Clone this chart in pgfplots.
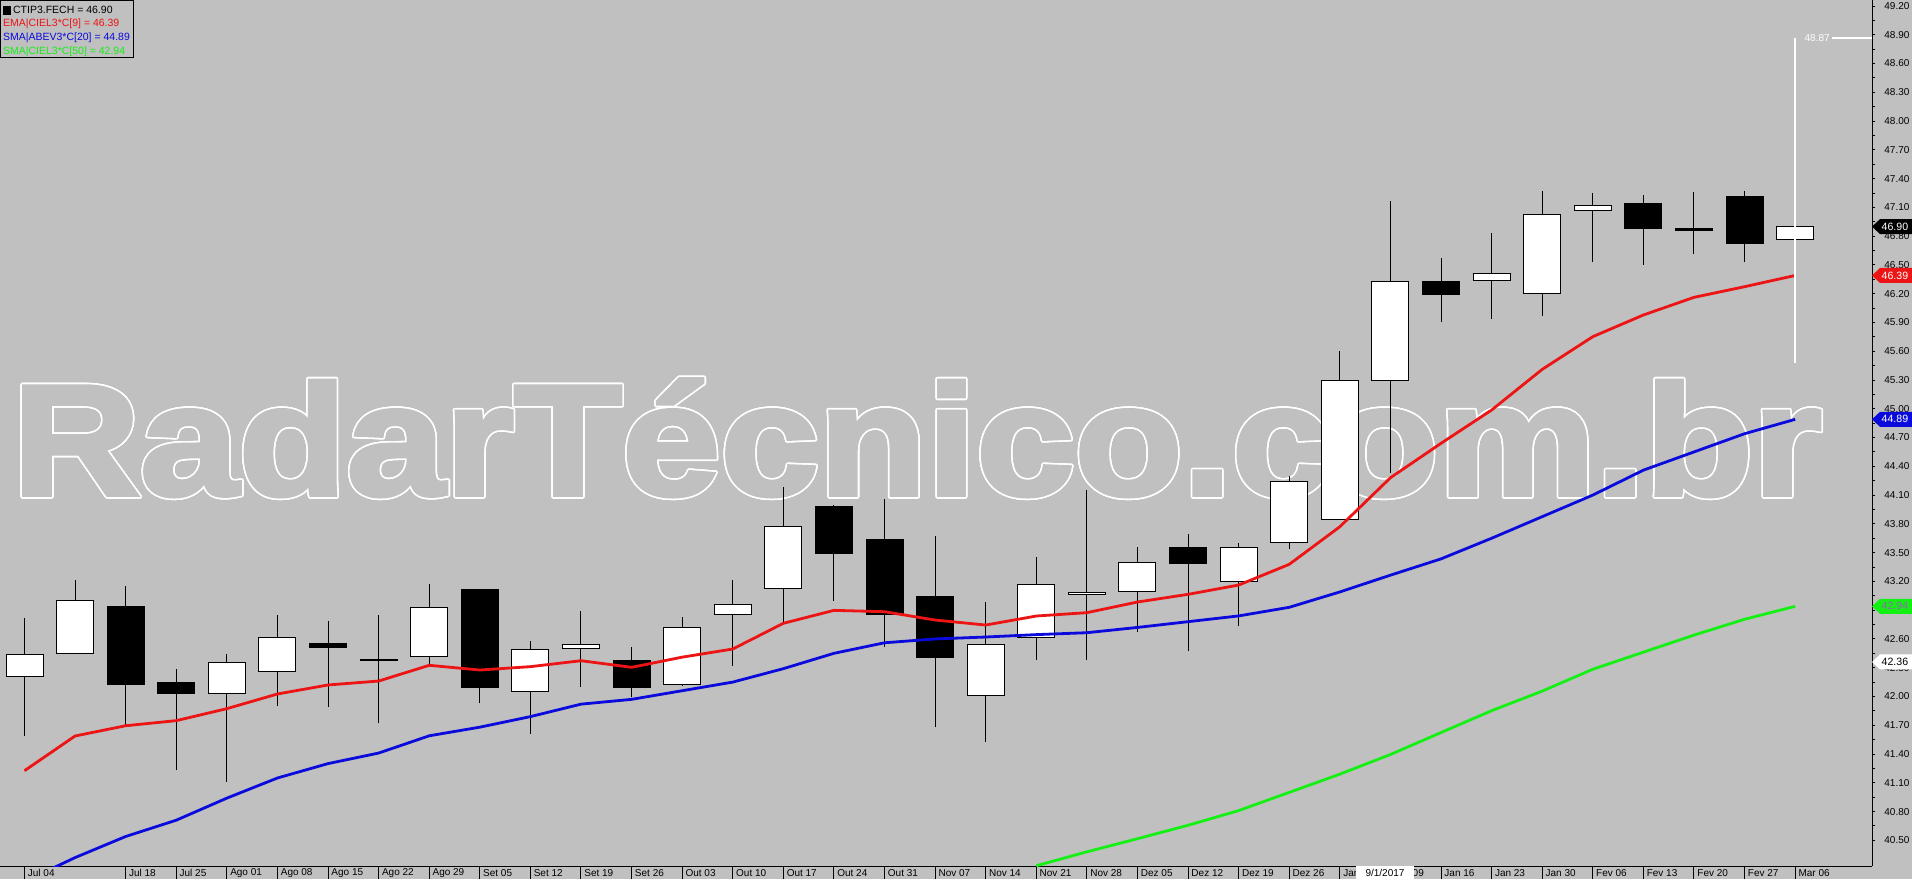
\documentclass[border=0pt]{standalone}
\usepackage{fontspec}
\setmainfont{Liberation Sans}
\newfontfamily\wmfam{Liberation Sans Bold}[FakeBold=2.5]
\usepackage{pgfplots}
\pgfplotsset{compat=1.18}
\usepackage{pgfplotstable}
\definecolor{bg}{RGB}{192,192,192}
\definecolor{emared}{RGB}{236,20,20}
\definecolor{smablue}{RGB}{10,10,220}
\definecolor{smagreen}{RGB}{20,240,20}
\definecolor{tagtext}{RGB}{150,100,180}
\newcommand\wmfont{\wmfam\fontsize{79pt}{79pt}\selectfont}
\newcommand\smallf{\fontsize{5pt}{6pt}\selectfont}
\newcommand\legf{\fontsize{5.25pt}{6pt}\selectfont}

\pgfplotstableread{
x o h l c
0 42.21 42.82 41.59 42.44
1 42.45 43.21 42.45 43.00
2 42.94 43.15 41.70 42.12
3 42.15 42.29 41.23 42.03
4 42.03 42.44 41.11 42.35
5 42.26 42.85 41.90 42.62
6 42.55 42.79 41.89 42.51
7 42.39 42.85 41.72 42.38
8 42.42 43.17 42.33 42.93
9 43.12 43.12 41.93 42.09
10 42.05 42.58 41.61 42.49
11 42.50 42.89 42.10 42.54
12 42.37 42.52 41.99 42.09
13 42.12 42.83 42.11 42.72
14 42.85 43.21 42.32 42.96
15 43.13 44.18 42.76 43.77
16 43.98 44.00 43.00 43.49
17 43.64 44.06 42.52 42.85
18 43.04 43.67 41.68 42.41
19 42.01 42.99 41.53 42.54
20 42.62 43.45 42.38 43.17
21 43.06 44.15 42.38 43.08
22 43.09 43.56 42.67 43.40
23 43.55 43.69 42.47 43.39
24 43.20 43.60 42.73 43.55
25 43.61 44.30 43.54 44.24
26 43.85 45.60 43.85 45.29
27 45.30 47.17 44.33 46.33
28 46.33 46.57 45.90 46.19
29 46.34 46.83 45.94 46.41
30 46.20 47.27 45.97 47.03
31 47.07 47.25 46.53 47.12
32 47.14 47.23 46.50 46.88
33 46.88 47.26 46.61 46.86
34 47.21 47.27 46.53 46.72
35 46.77 46.95 46.70 46.90
}\candles

\pgfplotstableread{
x v
0 41.226
1 41.588
2 41.695
3 41.748
4 41.873
5 42.026
6 42.120
7 42.161
8 42.325
9 42.276
10 42.311
11 42.373
12 42.304
13 42.410
14 42.495
15 42.763
16 42.898
17 42.884
18 42.797
19 42.745
20 42.839
21 42.874
22 42.985
23 43.065
24 43.162
25 43.378
26 43.770
27 44.281
28 44.640
29 44.987
30 45.411
31 45.752
32 45.978
33 46.162
34 46.273
35 46.390
}\ema

\pgfplotstableread{
x v
0 40.07
1 40.32
2 40.54
3 40.71
4 40.94
5 41.15
6 41.30
7 41.41
8 41.59
9 41.68
10 41.79
11 41.92
12 41.97
13 42.06
14 42.15
15 42.29
16 42.45
17 42.56
18 42.60
19 42.62
20 42.645
21 42.665
22 42.72
23 42.78
24 42.84
25 42.93
26 43.09
27 43.265
28 43.435
29 43.65
30 43.875
31 44.10
32 44.36
33 44.55
34 44.74
35 44.89
}\smab

\pgfplotstableread{
x v
20 40.235
21 40.38
22 40.517
23 40.657
24 40.81
25 41.00
26 41.19
27 41.395
28 41.624
29 41.852
30 42.056
31 42.284
32 42.462
33 42.64
34 42.805
35 42.94
}\smag

\pgfplotsset{base/.style={at={(0pt,6.5pt)}, anchor=south west, scale only axis,
  width=936pt, height=433pt, xmin=-0.4843, xmax=36.519, ymin=40.2323, ymax=49.2626}}

\begin{document}
\begin{tikzpicture}[x=1pt,y=1pt]
\useasboundingbox (0,0) rectangle (956,439.5);
\fill[bg] (0,0) rectangle (956,439.5);
% watermark (outlined text)
\foreach \a in {0,15,...,345}{
  \node[anchor=base west, inner sep=0pt, xscale=1.12, text=white, font=\wmfont]
    at ([shift={(\a:0.8)}]6,192) {RadarTécnico.com.br};
}
\node[anchor=base west, inner sep=0pt, xscale=1.12, text=bg, font=\wmfont] at (6,192) {RadarTécnico.com.br};

% Axis A: x axis, date separators, wicks
\begin{axis}[base, axis x line*=bottom, axis y line=none,
  axis line style={-, black, line width=0.5pt},
  tick align=outside, major tick length=6.5pt,
  xtick={0,2,3,4,5,6,7,8,9,10,11,12,13,14,15,16,17,18,19,20,21,22,23,24,25,26,27,28,29,30,31,32,33,34,35},
  xticklabels={Jul 04,Jul 18,Jul 25,Ago 01,Ago 08,Ago 15,Ago 22,Ago 29,Set 05,Set 12,Set 19,Set 26,Out 03,Out 10,Out 17,Out 24,Out 31,Nov 07,Nov 14,Nov 21,Nov 28,Dez 05,Dez 12,Dez 19,Dez 26,Jan 02,Jan 09,Jan 16,Jan 23,Jan 30,Fev 06,Fev 13,Fev 20,Fev 27,Mar 06},
  xtick style={black, line width=0.5pt},
  xticklabel style={anchor=west, inner sep=0pt, xshift=1.5pt, yshift=3pt, font=\smallf, text=black}]
\addplot[black, line width=0.5pt, only marks, mark=*, mark size=0pt,
  mark options={draw=none, fill=none},
  error bars/.cd, y dir=plus, y explicit, error mark=none,
  error bar style={black, line width=0.5pt, solid}]
  table[x=x, y=l, y error expr=\thisrow{h}-\thisrow{l}] {\candles};
\end{axis}

% Axis B: candle bodies
\begin{axis}[base, hide axis, ybar stacked, bar width=18.5pt]
\addplot[draw=none, fill=none] table[x=x, y expr={min(\thisrow{o},\thisrow{c})}] {\candles};
\addplot[draw=black, fill=white, line width=0.5pt] table[x=x, y expr={max(\thisrow{c}-\thisrow{o},0)}] {\candles};
\addplot[draw=black, fill=black, line width=0.5pt] table[x=x, y expr={max(\thisrow{o}-\thisrow{c},0)}] {\candles};
\end{axis}

% Axis C: moving averages, right price axis
\begin{axis}[base, axis x line=none, axis y line*=right,
  axis line style={-, black, line width=0.5pt},
  tick align=outside, major tick length=1.5pt, minor tick length=1.5pt,
  ytick={40.5,40.8,41.1,41.4,41.7,42.0,42.3,42.6,42.9,43.2,43.5,43.8,44.1,44.4,44.7,45.0,45.3,45.6,45.9,46.2,46.5,46.8,47.1,47.4,47.7,48.0,48.3,48.6,48.9,49.2},
  minor y tick num=1,
  ytick style={black, line width=0.5pt}, minor y tick style={black, line width=0.5pt},
  yticklabel style={/pgf/number format/fixed, /pgf/number format/fixed zerofill,
    /pgf/number format/precision=2, /pgf/number format/assume math mode=true,
    anchor=west, inner sep=0pt, xshift=4.5pt, font=\smallf, text=black},
  clip mode=individual]
\addplot[smablue, line width=1.4pt] table[x=x, y=v] {\smab};
\addplot[smagreen, line width=1.4pt] table[x=x, y=v] {\smag};
\addplot[emared, line width=1.4pt] table[x=x, y=v] {\ema};
\addplot[white, line width=1pt] coordinates {(35,48.87) (35,45.48)};
\addplot[white, line width=1pt] coordinates {(35.73,48.87) (36.519,48.87)};
\node[anchor=east, inner sep=0pt, text=white, font=\fontsize{5pt}{6pt}\selectfont] at (axis cs:35.69,48.87) {48.87};
\coordinate (T1) at (axis cs:36.519,46.90);
\coordinate (T2) at (axis cs:36.519,46.39);
\coordinate (T3) at (axis cs:36.519,44.89);
\coordinate (T4) at (axis cs:36.519,42.94);
\coordinate (T5) at (axis cs:36.519,42.36);
\end{axis}

% price tags
\newcommand\ptag[4]{%
  \fill[#2] (#1) -- ++(4,3.75) -- ++(16,0) -- ++(0,-7.5) -- ++(-16,0) -- cycle;
  \node[anchor=west, inner sep=0pt, text=#3, font=\fontsize{5.3pt}{6pt}\selectfont] at ([xshift=4.6]#1) {#4};}
\ptag{T1}{black}{white}{46.90}
\ptag{T2}{emared}{white}{46.39}
\ptag{T3}{smablue}{white}{44.89}
\ptag{T4}{smagreen}{tagtext}{42.94}
\ptag{T5}{white}{black}{42.36}

% date cursor box
\fill[white] (678,0) rectangle (707,6.5);
\node[inner sep=0pt, font=\smallf, text=black] at (692.5,3) {9/1/2017};

% legend
\draw[black, line width=0.5pt, fill=bg] (0.25,410.5) rectangle (66.5,439.25);
\fill[black] (1.5,432) rectangle (5.5,436.5);
\node[anchor=west, inner sep=0pt, font=\legf, text=black] at (6.35,434.5) {CTIP3.FECH = 46.90};
\node[anchor=west, inner sep=0pt, font=\legf, text=emared] at (1.35,427.5) {EMA|CIEL3*C[9] = 46.39};
\node[anchor=west, inner sep=0pt, font=\legf, text=smablue] at (1.35,420.5) {SMA|ABEV3*C[20] = 44.89};
\node[anchor=west, inner sep=0pt, font=\legf, text=smagreen] at (1.35,413.5) {SMA|CIEL3*C[50] = 42.94};
\end{tikzpicture}
\end{document}
